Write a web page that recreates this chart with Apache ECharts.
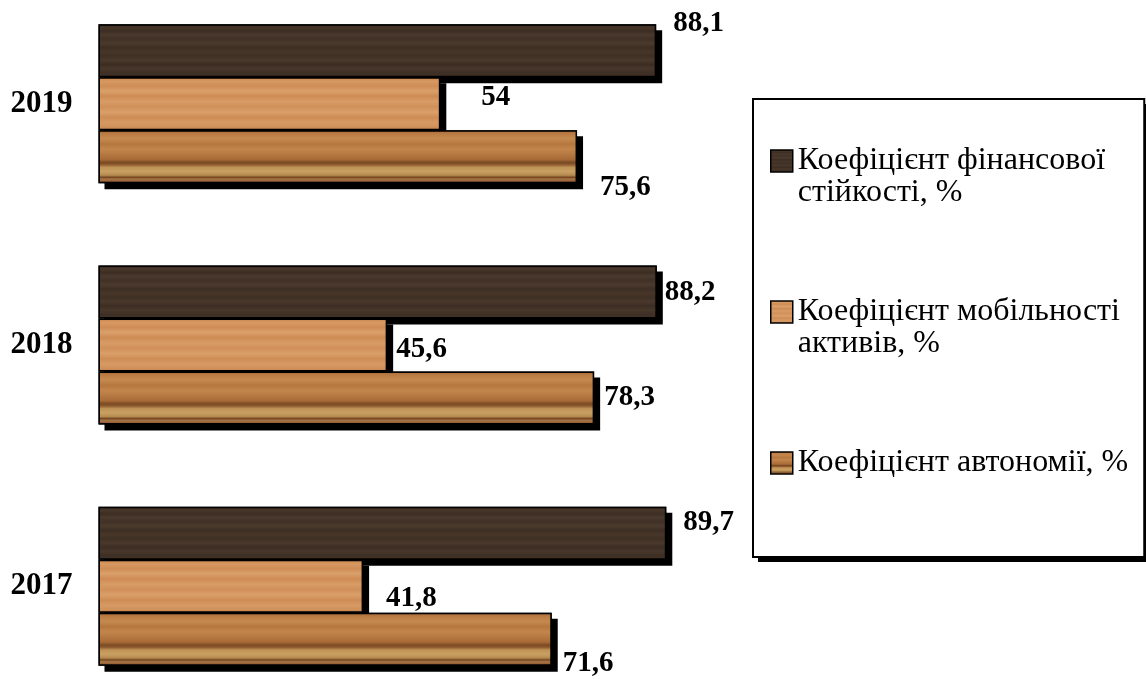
<!DOCTYPE html>
<html>
<head>
<meta charset="utf-8">
<script src="https://cdn.jsdelivr.net/npm/echarts@6/dist/echarts.min.js"></script>
<style>
  html, body { margin: 0; padding: 0; background: #ffffff; }
  #chart { width: 1146px; height: 679px; }
</style>
</head>
<body>
<div id="chart"></div>
<script>
// Categories (bottom to top on the axis)
const years = ['2017', '2018', '2019'];

// Series names
const nameStability = 'Коефіцієнт фінансової стійкості, %';
const nameMobility = 'Коефіцієнт мобільності активів, %';
const nameAutonomy = 'Коефіцієнт автономії, %';

// Values per year: 2017, 2018, 2019
const financialStability = [89.7, 88.2, 88.1];
const assetMobility = [41.8, 45.6, 54];
const autonomy = [71.6, 78.3, 75.6];

// Hand-placed value label shifts [dx, dy] from the bar end, per year
const shiftStability = [[17, -11], [8, 1], [17, -27]];
const shiftMobility = [[23, 12], [9, 5], [41, -6]];
const shiftAutonomy = [[11, 24], [10, 0], [23, 31]];

// Legend text, broken over lines like the boxed legend
// (a blank line is added so the marker sits beside the first line)
const legendText = {};
legendText[nameStability] = '\nКоефіцієнт фінансової\nстійкості, %';
legendText[nameMobility] = '\nКоефіцієнт мобільності\nактивів, %';
legendText[nameAutonomy] = '\nКоефіцієнт автономії, %\n';

const serif = '"Liberation Serif", "Times New Roman", serif';

// Vertical gradient used as a wood-grain fill across each bar
function grain(stops) {
  return {
    type: 'linear', x: 0, y: 0, x2: 0, y2: 1,
    colorStops: stops.map(function (s) { return { offset: s[0], color: s[1] }; })
  };
}

const darkWood = grain([
  [0, '#3a2b21'], [0.07, '#483729'], [0.13, '#3c2d23'], [0.2, '#4a392c'],
  [0.28, '#403026'], [0.36, '#4c3a2d'], [0.44, '#3d2e24'], [0.52, '#473628'],
  [0.6, '#3f3025'], [0.68, '#4a382b'], [0.76, '#3c2d23'], [0.84, '#48372a'],
  [0.92, '#3e2f25'], [1, '#433228']
]);

const lightWood = grain([
  [0, '#c9844c'], [0.08, '#d79962'], [0.17, '#cf8d55'], [0.26, '#dba06b'],
  [0.36, '#ce8b53'], [0.46, '#d89c66'], [0.56, '#d1905a'], [0.66, '#da9f69'],
  [0.76, '#cf8c55'], [0.86, '#d79a64'], [0.94, '#d0905a'], [1, '#c3804a']
]);

const mediumWood = grain([
  [0, '#a56836'], [0.07, '#bb7c44'], [0.16, '#c58a4f'], [0.26, '#b6773f'],
  [0.36, '#c2864b'], [0.46, '#b57842'], [0.55, '#a96b37'], [0.61, '#7a4a24'],
  [0.65, '#8e5a2e'], [0.7, '#bf9256'], [0.78, '#c9a062'], [0.85, '#b68b50'],
  [0.89, '#74441f'], [0.92, '#a37645'], [0.96, '#9c6238'], [1, '#74402a']
]);

const labelBase = {
  show: true,
  position: 'right',
  distance: 0,
  color: '#000',
  fontFamily: serif,
  fontWeight: 'bold',
  fontSize: 29,
  formatter: function (p) { return String(p.value).replace('.', ','); }
};

function withShifts(values, shifts) {
  return values.map(function (v, i) {
    return { value: v, label: { offset: shifts[i] } };
  });
}

// Visible wood bars (first y axis)
function woodSeries(name, values, shifts, fill) {
  return {
    name: name,
    type: 'bar',
    yAxisIndex: 0,
    z: 3,
    barWidth: 53,
    barGap: '0%',
    data: withShifts(values, shifts),
    itemStyle: { color: fill, borderColor: '#000', borderWidth: 1.5 },
    label: labelBase,
    emphasis: { disabled: true },
    animation: false
  };
}

// Solid black copies on a hidden twin axis, casting the offset drop shadow
function shadowSeries(values) {
  return {
    type: 'bar',
    yAxisIndex: 1,
    z: 1,
    silent: true,
    barWidth: 53,
    barGap: '0%',
    data: values,
    itemStyle: {
      color: '#000',
      shadowColor: '#000',
      shadowBlur: 0,
      shadowOffsetX: 6,
      shadowOffsetY: 6
    },
    label: { show: false },
    emphasis: { disabled: true },
    animation: false
  };
}

const chart = echarts.init(document.getElementById('chart'), null, { renderer: 'canvas' });

chart.setOption({
  backgroundColor: '#ffffff',
  animation: false,
  grid: {
    left: 98.5,
    top: -17,
    width: 633,
    height: 724,
    outerBoundsMode: 'none',
    containLabel: false
  },
  xAxis: {
    type: 'value',
    min: 0,
    max: 100,
    show: false
  },
  yAxis: [
    {
      type: 'category',
      data: years,
      axisLine: { show: false },
      axisTick: { show: false },
      splitLine: { show: false },
      axisLabel: {
        color: '#000',
        fontFamily: serif,
        fontWeight: 'bold',
        fontSize: 31,
        margin: 26
      }
    },
    {
      type: 'category',
      data: years,
      show: false
    }
  ],
  // Drop shadow behind the legend frame
  graphic: [{
    type: 'rect',
    z: 0,
    silent: true,
    shape: { x: 758, y: 104, width: 390, height: 458 },
    style: { fill: '#000' }
  }],
  legend: {
    orient: 'vertical',
    left: 753,
    top: 99,
    z: 5,
    padding: [14, 16, 46, 17],
    itemGap: 55,
    itemWidth: 22,
    itemHeight: 22,
    icon: 'rect',
    backgroundColor: '#ffffff',
    borderColor: '#000',
    borderWidth: 2,
    selectedMode: false,
    data: [nameStability, nameMobility, nameAutonomy],
    formatter: function (name) { return legendText[name]; },
    itemStyle: {
      borderColor: '#000',
      borderWidth: 1.5
    },
    textStyle: {
      color: '#000',
      fontFamily: serif,
      fontSize: 32,
      lineHeight: 32
    }
  },
  series: [
    shadowSeries(financialStability),
    shadowSeries(assetMobility),
    shadowSeries(autonomy),
    woodSeries(nameStability, financialStability, shiftStability, darkWood),
    woodSeries(nameMobility, assetMobility, shiftMobility, lightWood),
    woodSeries(nameAutonomy, autonomy, shiftAutonomy, mediumWood)
  ]
});
</script>
</body>
</html>
